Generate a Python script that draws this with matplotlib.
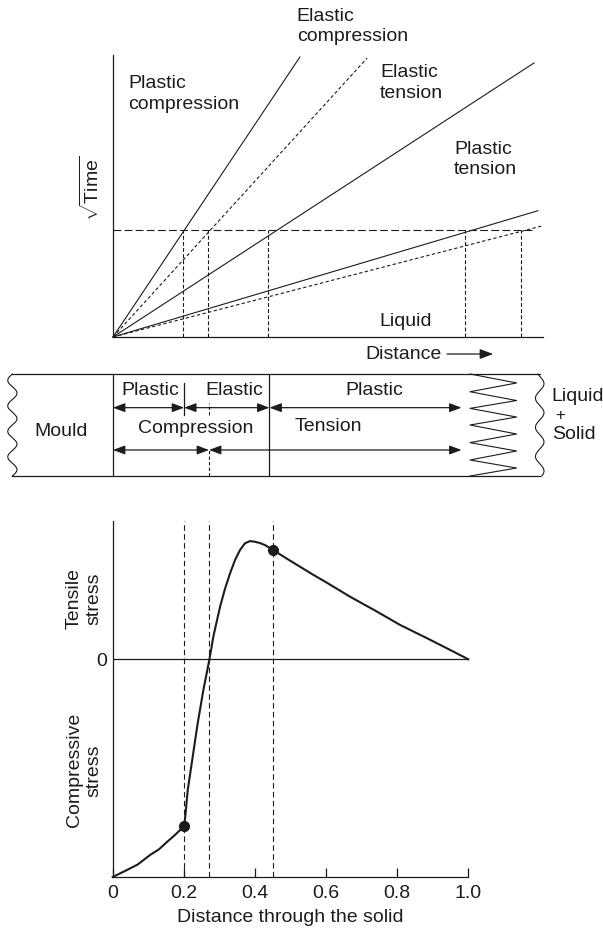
import numpy as np
import matplotlib.pyplot as plt

plt.rcParams['font.family'] = ['Liberation Sans', 'DejaVu Sans']
plt.rcParams['mathtext.fontset'] = 'custom'
plt.rcParams['mathtext.rm'] = 'Liberation Sans'
plt.rcParams['font.size'] = 14

W, H = 603, 936
INK = '#1c1c1c'

# --- sqrt(time) against distance: how far each front has moved
front_end_x = [0.531, 0.722, 1.196, 1.207, 1.218]
front_end_t = [2.617, 2.607, 2.561, 1.180, 1.037]
front_dashed = [False, True, False, False, True]
# position of each front at the chosen time (sqrt t = 1)
front_at_t1 = [0.20, 0.27, 0.44, 1.00, 1.16]

# --- zones through the shell
row1_edges = [0.0, 0.2, 0.44, 0.98]
row1_labels = ['Plastic', 'Elastic', 'Plastic']
row2_edges = [0.0, 0.27, 0.98]
row2_labels = ['Compression', 'Tension']

# --- stress profile through the solid
dist = [0.0, 0.035, 0.07, 0.105, 0.13, 0.15, 0.175, 0.201, 0.204, 0.211,
        0.225, 0.239, 0.255, 0.272, 0.283, 0.302, 0.316, 0.330, 0.344,
        0.358, 0.372, 0.386, 0.400, 0.414, 0.428, 0.451, 0.49, 0.527, 0.56,
        0.60, 0.667, 0.74, 0.808, 0.88, 0.949, 1.0]
stress = [-1.0, -0.972, -0.943, -0.899, -0.873, -0.843, -0.807, -0.766,
          -0.723, -0.601, -0.447, -0.294, -0.141, 0.0, 0.104, 0.242, 0.325,
          0.395, 0.456, 0.502, 0.533, 0.543, 0.540, 0.534, 0.525, 0.502,
          0.462, 0.425, 0.392, 0.354, 0.288, 0.222, 0.158, 0.100, 0.043, 0.0]
marked_dist = [0.201, 0.451]
marked_stress = [-0.766, 0.502]
stress_guides = [0.2, 0.27, 0.45]
xticks = [0, 0.2, 0.4, 0.6, 0.8, 1.0]
xtick_labels = ['0', '0.2', '0.4', '0.6', '0.8', '1.0']


def px_axes(fig, left, top, right, bottom):
    return fig.add_axes([left / W, 1 - bottom / H, (right - left) / W, (bottom - top) / H])


fig = plt.figure(figsize=(W / 100, H / 100), dpi=100)

# ---------------- top: sqrt(time) diagram ----------------
ax = px_axes(fig, 113, 55, 543, 337)
ax.set_xlim(0, 430 / 352)
ax.set_ylim(0, 282 / 107)
for s in ['top', 'right']:
    ax.spines[s].set_visible(False)
for s in ['left', 'bottom']:
    ax.spines[s].set_linewidth(0.9)
    ax.spines[s].set_color(INK)
ax.set_xticks([])
ax.set_yticks([])
ax.patch.set_visible(False)

for xe, te, dashed in zip(front_end_x, front_end_t, front_dashed):
    if dashed:
        ax.plot([0, xe], [0, te], color=INK, lw=0.8, dashes=(3, 2.2), clip_on=False)
    else:
        ax.plot([0, xe], [0, te], color=INK, lw=0.8, clip_on=False)

ax.plot([0, 1.2], [1, 1], color=INK, lw=0.8, dashes=(7, 3))
for xf in front_at_t1:
    ax.plot([xf, xf], [0, 1], color=INK, lw=0.8, dashes=(3.5, 2))

ax.text(0.522, 2.90, 'Elastic\ncompression', ha='left', va='center', linespacing=1.25, color=INK)
ax.text(0.0435, 2.27, 'Plastic\ncompression', ha='left', va='center', linespacing=1.25, color=INK)
ax.text(0.7585, 2.375, 'Elastic\ntension', ha='left', va='center', linespacing=1.25, color=INK)
ax.text(0.969, 1.66, 'Plastic\ntension', ha='left', va='center', linespacing=1.25, color=INK)
ax.text(0.756, 0.143, 'Liquid', ha='left', va='center', color=INK)
ax.text(0.934, -0.159, 'Distance', ha='right', va='center', color=INK)
ax.annotate('', xy=(1.08, -0.159), xytext=(0.949, -0.159), annotation_clip=False,
            arrowprops=dict(arrowstyle='-|>,head_length=0.8,head_width=0.3',
                            mutation_scale=10, color=INK, lw=0.9, shrinkA=0, shrinkB=0))
ax.text(-0.0625, 1.393, r'$\sqrt{\mathrm{Time}}$', rotation=90, ha='center', va='center', color=INK)

# ---------------- middle: zones across the shell ----------------
am = px_axes(fig, 0, 370, 603, 482)
am.set_xlim(-113 / 355.6, 490 / 355.6)
am.set_ylim(-6 / 102, 106 / 102)
am.axis('off')

yy = np.linspace(0, 1, 200)
am.plot(-0.283 + 0.013 * np.sin(2 * np.pi * 4 * yy), yy, color=INK, lw=0.8)
am.plot(1.200 + 0.012 * np.sin(2 * np.pi * 3.5 * yy + 0.5), yy, color=INK, lw=0.8)
am.plot([-0.283, 1.2], [1, 1], color=INK, lw=0.9)
am.plot([-0.283, 1.2], [0, 0], color=INK, lw=0.9)

am.plot([0, 0], [0, 1], color=INK, lw=0.9)
am.plot([0.44, 0.44], [0, 1], color=INK, lw=0.9)
am.plot([0.2, 0.2], [0.6, 0.91], color=INK, lw=0.9)
am.plot([0.27, 0.27], [0.6, 0.72], color=INK, lw=0.8, dashes=(3, 2))
am.plot([0.27, 0.27], [0, 0.255], color=INK, lw=0.8, dashes=(3, 2))

# zig-zag of the liquid + solid zone
zig_x = [1.004, 1.135, 1.004, 1.135, 1.004, 1.135, 1.004, 1.135, 1.004, 1.135, 1.004, 1.135, 1.004]
zig_y = [1.0, 0.912, 0.826, 0.740, 0.663, 0.578, 0.500, 0.412, 0.327, 0.245, 0.157, 0.078, 0.0]
am.plot(zig_x, zig_y, color=INK, lw=0.8)

arrow_kw = dict(arrowstyle='<|-|>,head_length=0.8,head_width=0.3', mutation_scale=9,
                color=INK, lw=0.9, shrinkA=0, shrinkB=0)
for a, b in zip(row1_edges[:-1], row1_edges[1:]):
    am.annotate('', xy=(b, 0.67), xytext=(a, 0.67), arrowprops=arrow_kw)
for a, b in zip(row2_edges[:-1], row2_edges[1:]):
    am.annotate('', xy=(b, 0.255), xytext=(a, 0.255), arrowprops=arrow_kw)

for xc, lab in zip([0.105, 0.340, 0.734], row1_labels):
    am.text(xc, 0.843, lab, ha='center', va='center', color=INK)
am.text(0.233, 0.468, row2_labels[0], ha='center', va='center', color=INK)
am.text(0.605, 0.483, row2_labels[1], ha='center', va='center', color=INK)
am.text(-0.145, 0.434, 'Mould', ha='center', va='center', color=INK)
am.text(1.234, 0.777, 'Liquid', ha='left', va='center', color=INK)
am.text(1.244, 0.598, '+', ha='left', va='center', color=INK, fontsize=12)
am.text(1.234, 0.402, 'Solid', ha='left', va='center', color=INK)

# ---------------- bottom: stress profile ----------------
ab = px_axes(fig, 112.7, 521, 468.3, 877)
ab.set_xlim(0, 1.0)
ab.set_ylim(-1.0, 356 / 217.7 - 1.0)
for s in ['top', 'right']:
    ab.spines[s].set_visible(False)
for s in ['left', 'bottom']:
    ab.spines[s].set_linewidth(0.9)
    ab.spines[s].set_color(INK)
ab.patch.set_visible(False)

ab.axhline(0, color=INK, lw=0.9)
for xg in stress_guides:
    ab.axvline(xg, color=INK, lw=0.8, dashes=(5, 3))
ab.plot(dist, stress, color=INK, lw=1.5, clip_on=False, solid_joinstyle='round')
ab.plot(marked_dist, marked_stress, 'o', color=INK, ms=7, clip_on=False)

ab.set_xticks(xticks)
ab.set_xticklabels(xtick_labels)
ab.tick_params(axis='x', direction='in', length=6.5, width=0.9, color=INK, pad=6, labelcolor=INK)
ab.set_yticks([0])
ab.set_yticklabels(['0'])
ab.tick_params(axis='y', length=0, pad=4, labelcolor=INK)
ab.set_xlabel('Distance through the solid', labelpad=5, color=INK)

ab.text(-0.08, 0.28, 'Tensile\nstress', rotation=90, ha='center', va='center',
        linespacing=1.25, color=INK)
ab.text(-0.08, -0.51, 'Compressive\nstress', rotation=90, ha='center', va='center',
        linespacing=1.25, color=INK)

fig.savefig('out.png', dpi=100)
